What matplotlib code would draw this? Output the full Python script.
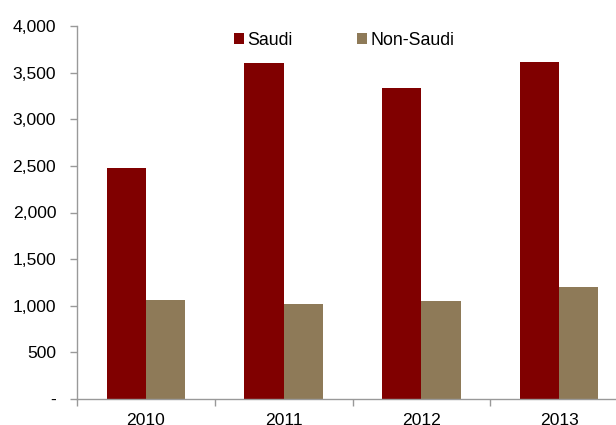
import numpy as np
import matplotlib
matplotlib.use("Agg")
import matplotlib.pyplot as plt
from matplotlib.ticker import FuncFormatter

# Workforce by nationality, 2010-2013
years = ["2010", "2011", "2012", "2013"]
saudi = [2480, 3600, 3340, 3615]
non_saudi = [1065, 1015, 1050, 1200]

c_saudi = "#800000"
c_non = "#8e7a58"

plt.rcParams["font.family"] = ["Liberation Sans", "DejaVu Sans"]

fig = plt.figure(figsize=(6.16, 4.25), dpi=100)
ax = fig.add_axes([0.125, 0.0612, 0.8945, 0.8776])

x = np.arange(len(years)) + 0.5
w = 0.285
ax.bar(x - w / 2, saudi, w, color=c_saudi, label="Saudi", edgecolor="none")
ax.bar(x + w / 2, non_saudi, w, color=c_non, label="Non-Saudi", edgecolor="none")

ax.set_xlim(0, len(years))
ax.set_ylim(0, 4000)
ax.set_yticks(np.arange(0, 4001, 500))
ax.yaxis.set_major_formatter(FuncFormatter(lambda v, p: "-" if v == 0 else f"{v:,.0f}"))

# year labels at the centres, tick marks on the boundaries
ax.set_xticks(x)
ax.set_xticklabels(years)
ax.set_xticks(np.arange(0, len(years) + 1), minor=True)
ax.tick_params(axis="x", which="major", length=0, pad=10, labelsize=12.6, colors="#000000")
ax.tick_params(axis="x", which="minor", length=5, width=1, color="#999999", direction="out")
ax.tick_params(axis="y", length=5, width=1, color="#999999", pad=10, labelsize=12.6)

for s in ["top", "right"]:
    ax.spines[s].set_visible(False)
for s in ["left", "bottom"]:
    ax.spines[s].set_color("#999999")
    ax.spines[s].set_linewidth(1)

ax.legend(loc="center", bbox_to_anchor=(0.485, 0.962), ncol=2, frameon=False,
          fontsize=12.8, handlelength=0.55, handleheight=0.55, handletextpad=0.2,
          columnspacing=3.6)

fig.savefig("out.png", dpi=100)
